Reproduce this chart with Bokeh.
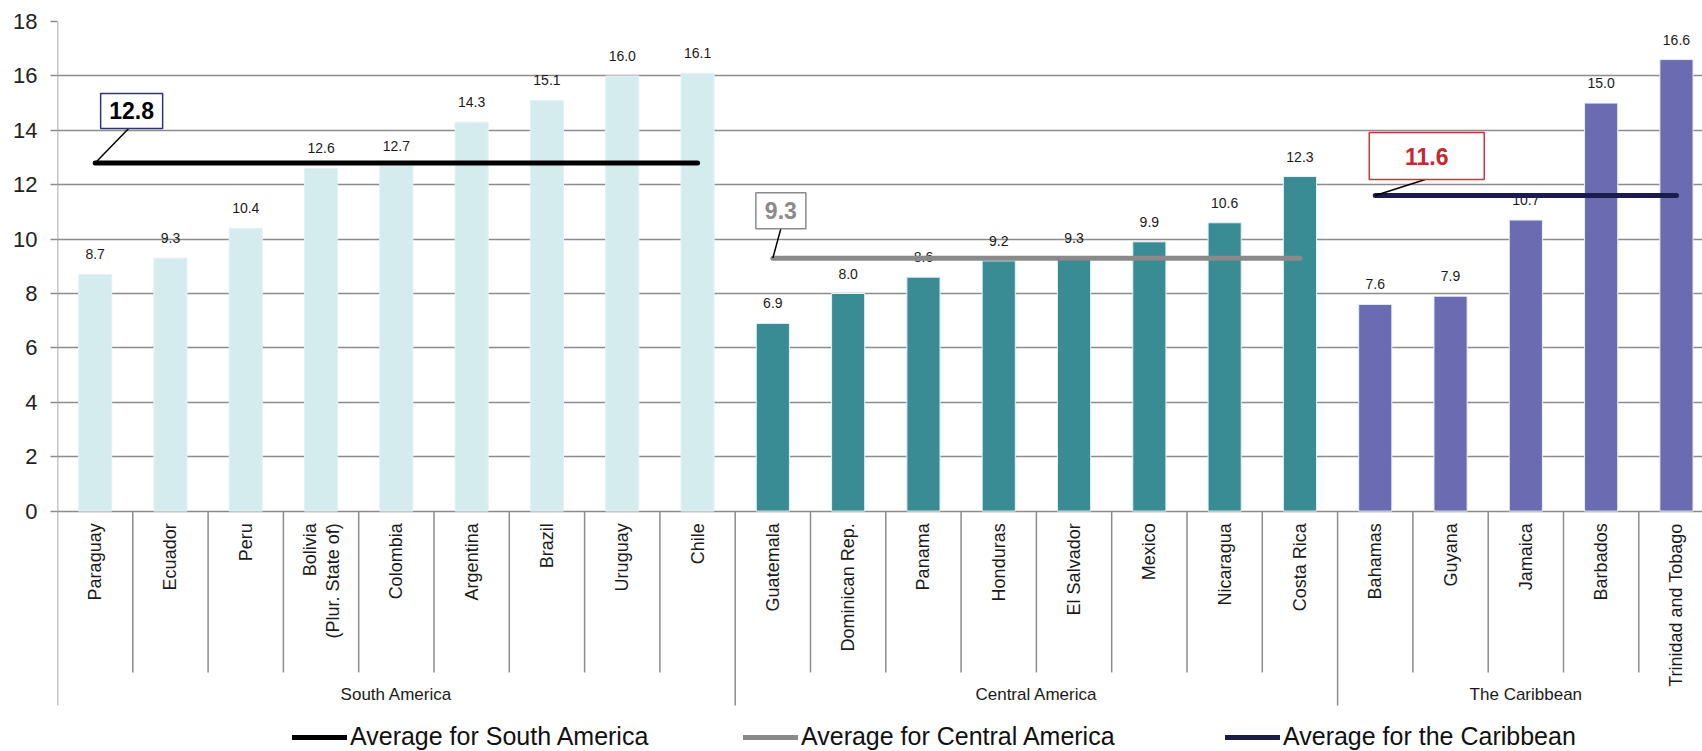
import math
from bokeh.plotting import figure
from bokeh.models import (ColumnDataSource, FixedTicker, Range1d, Legend, LegendItem)
from bokeh.core.properties import value
from bokeh.embed import file_html
from bokeh.resources import INLINE

# ---------------- data ----------------
countries = ["Paraguay", "Ecuador", "Peru", "Bolivia\n(Plur. State of)", "Colombia",
             "Argentina", "Brazil", "Uruguay", "Chile",
             "Guatemala", "Dominican Rep.", "Panama", "Honduras", "El Salvador",
             "Mexico", "Nicaragua", "Costa Rica",
             "Bahamas", "Guyana", "Jamaica", "Barbados", "Trinidad and Tobago"]
values_ = [8.7, 9.3, 10.4, 12.6, 12.7, 14.3, 15.1, 16.0, 16.1,
           6.9, 8.0, 8.6, 9.2, 9.3, 9.9, 10.6, 12.3,
           7.6, 7.9, 10.7, 15.0, 16.6]
group_names = ["South America", "Central America", "The Caribbean"]
group_sizes = [9, 8, 5]
group_averages = [12.8, 9.3, 11.6]
legend_labels = ["Average for South America", "Average for Central America",
                 "Average for the Caribbean"]
y_ticks = [0, 2, 4, 6, 8, 10, 12, 14, 16, 18]

# ---------------- styling / layout ----------------
FONT = "Liberation Sans"
bar_colors = ["#d5ecef", "#3a8c94", "#6b6bb1"]
avg_colors = ["#000000", "#8a8a8a", "#1b1b4e"]
callout_border = ["#2e3572", "#8a8a8a", "#d0343a"]
callout_text = ["#000000", "#8a8a8a", "#c8282e"]
callout_box = [(62, 35), (50, 36), (115, 47)]          # px
callout_offset = [(36.5, -52), (8, -47.5), (51.5, -39.5)]  # px, box centre vs line start
leader_end = [(33.5, -34.5), (8, -29.5), (50, -16)]      # px, leader end vs line start
legend_x = [235, 686, 1168]                               # px from frame left
GRID = "#8c8c8c"

W, H = 1702, 751
LEFT, TOP = 57, 21
frame_w = W - LEFT
frame_h = H - TOP
x_start, x_end = 0, frame_w / 75.3
y_end = 18
y_start = y_end - frame_h / 27.2
PX_X = frame_w / (x_end - x_start)
PX_Y = frame_h / (y_end - y_start)

country_div_bottom = -5.93
group_div_bottom = -7.15
country_label_y = -0.45
group_label_y = -6.75

p = figure(width=W, height=H, output_backend="svg", toolbar_location=None,
           x_range=Range1d(x_start, x_end), y_range=Range1d(y_start, y_end),
           x_axis_location=None, min_border_left=LEFT, min_border_right=0,
           min_border_top=TOP, min_border_bottom=0)
p.outline_line_color = None
p.background_fill_color = "white"
p.border_fill_color = "white"
p.xgrid.visible = False

p.yaxis.ticker = FixedTicker(ticks=y_ticks)
p.ygrid.ticker = FixedTicker(ticks=y_ticks)
p.ygrid.grid_line_color = GRID
p.ygrid.grid_line_width = 1.3
p.yaxis.axis_line_color = None
p.yaxis.major_tick_line_color = GRID
p.yaxis.major_tick_line_width = 1.3
p.yaxis.major_tick_out = 7
p.yaxis.major_tick_in = 0
p.yaxis.minor_tick_line_color = None
p.yaxis.major_label_text_font = FONT
p.yaxis.major_label_text_font_size = "22px"
p.yaxis.major_label_text_color = "#222222"
p.yaxis.major_label_standoff = 13

# ---------------- bars ----------------
xs = [i + 0.5 for i in range(len(countries))]
colors = []
starts = []
s = 0
for gi, n in enumerate(group_sizes):
    starts.append(s)
    colors += [bar_colors[gi]] * n
    s += n

src = ColumnDataSource(dict(x=xs, top=values_, color=colors,
                            lab=[f"{v:.1f}" for v in values_], name=countries))
p.vbar(x="x", top="top", width=0.44, bottom=0, source=src, fill_color="color",
       line_color="#e4f2f6", line_width=1)
p.text(x="x", y="top", text="lab", source=src, text_align="center",
       text_baseline="middle", y_offset=-20, text_font=value(FONT),
       text_font_size="14px", text_color="#1a1a1a")

# left axis line (through category area)
p.segment(x0=[0], y0=[group_div_bottom], x1=[0], y1=[y_end], line_color=GRID, line_width=1.5)

# category dividers
group_bounds = set(starts)
cx, cy0, cy1 = [], [], []
for b in range(1, len(countries) + 1):
    cx.append(b)
    cy0.append(0)
    cy1.append(group_div_bottom if b in group_bounds else country_div_bottom)
p.segment(x0=cx, y0=cy0, x1=cx, y1=cy1, line_color=GRID, line_width=1.5)

# category labels
p.text(x="x", y=country_label_y, text="name", source=src, angle=math.pi / 2,
       text_align="right", text_baseline="middle", text_font=value(FONT),
       text_font_size="18px", text_color="#1a1a1a", text_line_height=1.15)

# group labels
gx = [starts[i] + group_sizes[i] / 2 for i in range(len(group_sizes))]
p.text(x=gx, y=[group_label_y] * len(gx), text=group_names, text_align="center",
       text_baseline="middle", text_font=value(FONT), text_font_size="17px",
       text_color="#1a1a1a")

# ---------------- averages + callouts ----------------
avg_renderers = []
for gi, avg in enumerate(group_averages):
    x0 = starts[gi] + 0.5
    x1 = starts[gi] + group_sizes[gi] - 0.5
    r = p.line(x=[x0, x1], y=[avg, avg], line_color=avg_colors[gi], line_width=5,
               line_cap="round")
    avg_renderers.append(r)
    # leader
    lx, ly = leader_end[gi]
    p.segment(x0=[x0], y0=[avg], x1=[x0 + lx / PX_X], y1=[avg - ly / PX_Y],
              line_color="#000000", line_width=1.5)
    bx, by = callout_offset[gi]
    bw, bh = callout_box[gi]
    cxp, cyp = x0 + bx / PX_X, avg - by / PX_Y
    p.rect(x=[cxp], y=[cyp], width=bw, height=bh, width_units="screen",
           height_units="screen", fill_color="white", line_color=callout_border[gi],
           line_width=1.5)
    p.text(x=[cxp], y=[cyp], text=[f"{avg:.1f}"], text_align="center",
           text_baseline="middle", text_font=value(FONT), text_font_size="23px",
           text_font_style="bold", text_color=callout_text[gi])

# ---------------- legends ----------------
for gi, r in enumerate(avg_renderers):
    leg = Legend(items=[LegendItem(label=legend_labels[gi], renderers=[r])],
                 location=(legend_x[gi], 0), orientation="horizontal",
                 glyph_width=55, glyph_height=26, label_standoff=3, padding=0,
                 margin=0, spacing=0, border_line_color=None,
                 background_fill_alpha=0, label_text_font=FONT,
                 label_text_font_size="25px", label_text_color="#111111")
    p.add_layout(leg)

open("out.html", "w").write(file_html(p, INLINE))
